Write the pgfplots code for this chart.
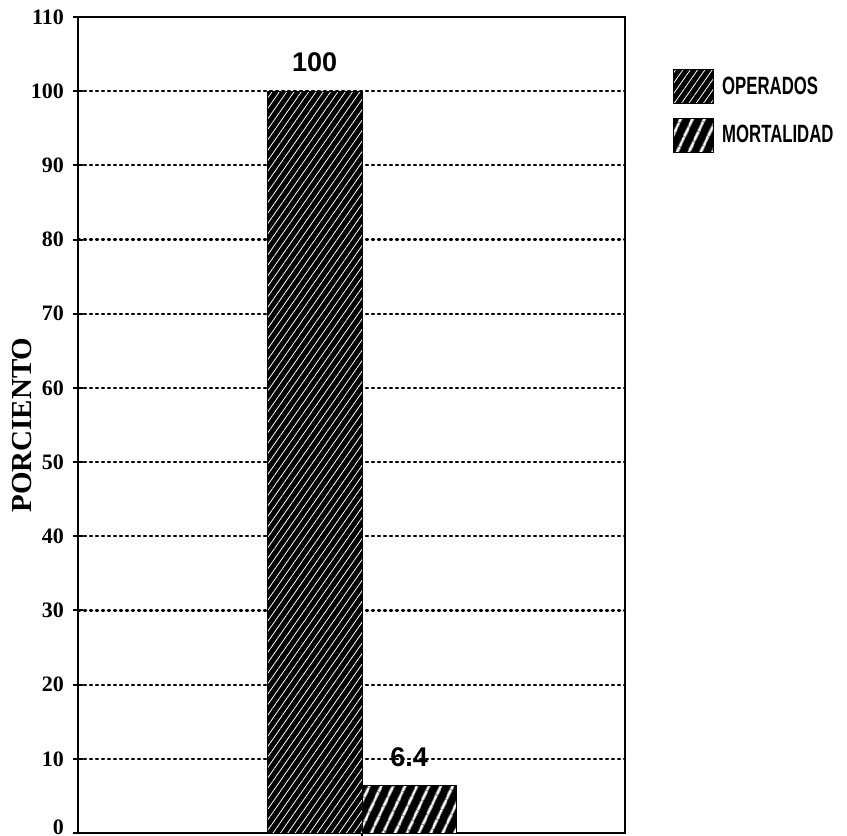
\documentclass[border=0pt]{standalone}
\usepackage{fontspec}
\setmainfont{Liberation Serif}
\newfontfamily\condsans[FakeStretch=0.67]{Liberation Sans}
\newfontfamily\numsans{Liberation Sans}
\usepackage{pgfplots}
\pgfplotsset{compat=1.18}
\usetikzlibrary{patterns.meta}

\begin{document}
\begin{tikzpicture}
\useasboundingbox (0,0) rectangle (423.5pt,418pt);
\begin{axis}[
  at={(39pt,1.5pt)}, anchor=south west,
  width=273.5pt, height=408pt, scale only axis,
  xmin=-2.5, xmax=3.28,
  ymin=0, ymax=110,
  ytick={0,10,...,110},
  yticklabels={\raisebox{-0.75pt}[0pt][0pt]{0},10,20,30,40,50,60,70,80,90,100,110},
  xtick={0.5}, xticklabels={},
  tick pos=left,
  ybar, bar width=1, bar shift=0pt,
  axis line style={line width=1pt},
  tick style={line width=1pt, black},
  tick align=center, major tick length=5pt,
  ymajorgrids,
  grid style={black, line width=1.1pt, dash pattern=on 1pt off 2pt, line cap=round},
  /pgf/number format/assume math mode=true,
  yticklabel style={font=\bfseries\fontsize{11}{12}\selectfont, xshift=-1pt},
  ylabel={\bfseries\fontsize{14.5}{16}\selectfont PORCIENTO},
  ylabel style={at={(axis description cs:-0.1015,0.5)}, anchor=center},
  legend style={at={(axis description cs:1,1)}, anchor=north west,
    xshift=24pt, yshift=-26pt, draw=none, fill=none, inner sep=0pt,
    row sep=7pt, font=\condsans\bfseries\fontsize{12.5}{13}\selectfont,
    legend cell align=left,
    nodes={inner xsep=4pt}},
  legend image code/.code={\draw[#1] (0pt,-8.5pt) rectangle (20pt,8.5pt);},
  nodes near coords,
  nodes near coords style={font=\numsans\bfseries\fontsize{13.5}{15}\selectfont, yshift=6pt},
]
% Operados: dense fine hatching on a dark ground
\addplot[draw=black, fill=black,
  postaction={pattern={Lines[angle=55,distance=3pt,line width=0.4pt]}, pattern color=white}]
  coordinates {(0,100)};
% Mortalidad: wide hatching
\addplot[draw=black, fill=black,
  postaction={pattern={Lines[angle=65,distance=5.4pt,line width=1.4pt]}, pattern color=white}]
  coordinates {(1,6.4)};
\legend{OPERADOS, MORTALIDAD}
\end{axis}
\end{tikzpicture}
\end{document}
